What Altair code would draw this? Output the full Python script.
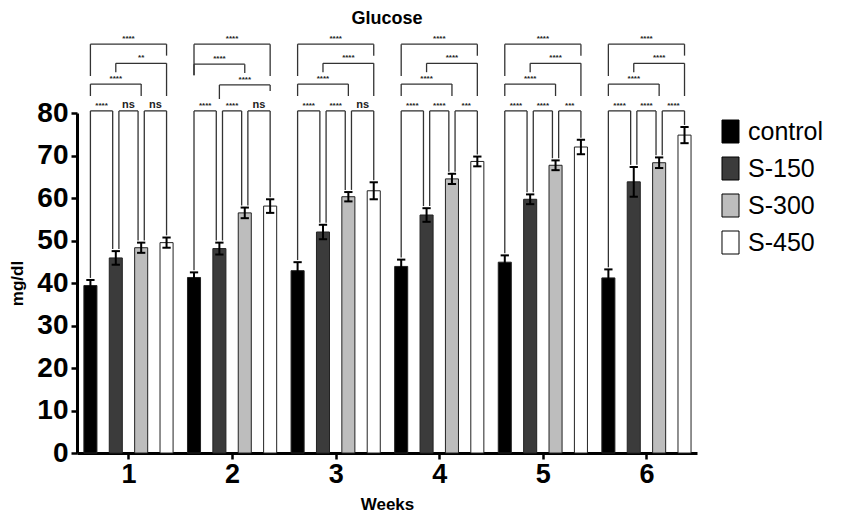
import altair as alt
import pandas as pd

# ---------------- data ----------------
weeks = [1, 2, 3, 4, 5, 6]
groups = ["control", "S-150", "S-300", "S-450"]
group_colors = ["#000000", "#3b3b3b", "#bdbdbd", "#ffffff"]

control_mean = [39.4, 41.3, 42.9, 43.9, 44.9, 41.2]
s150_mean = [45.9, 48.1, 52.0, 56.0, 59.7, 63.8]
s300_mean = [48.3, 56.5, 60.3, 64.5, 67.7, 68.3]
s450_mean = [49.5, 58.1, 61.7, 68.6, 72.0, 74.8]

control_err = [1.3, 1.2, 2.0, 1.6, 1.6, 2.0]
s150_err = [1.6, 1.4, 1.7, 1.6, 1.15, 3.5]
s300_err = [1.2, 1.25, 1.1, 1.2, 1.15, 1.25]
s450_err = [1.2, 1.6, 2.0, 1.15, 1.7, 1.9]

# significance labels per week
sig_control_s150 = ["****", "****", "****", "****", "****", "****"]
sig_s150_s300 = ["ns", "****", "****", "****", "****", "****"]
sig_s300_s450 = ["ns", "ns", "ns", "***", "***", "****"]
sig_control_s300 = ["****", "****", "****", "****", "****", "****"]
sig_s150_s450 = ["**", "****", "****", "****", "****", "****"]
sig_control_s450 = ["****", "****", "****", "****", "****", "****"]
# which wide comparison sits in the middle row of brackets
middle_row = ["s150_s450", "control_s300", "s150_s450", "s150_s450", "s150_s450", "s150_s450"]

means = [control_mean, s150_mean, s300_mean, s450_mean]
errs = [control_err, s150_err, s300_err, s450_err]

# ---------------- layout helpers ----------------
STEP = 0.245      # spacing of bars within a week (x units)
HALF = 0.063      # half bar width
CAP = 0.04        # half width of error-bar caps
INSET = 0.03      # bracket inset where two brackets share a bar

rows = []
for wi, w in enumerate(weeks):
    for gi, g in enumerate(groups):
        m = means[gi][wi]
        e = errs[gi][wi]
        xc = w + (gi - 1.5) * STEP
        rows.append(dict(week=w, group=g, mean=m, err=e, xc=xc,
                         xl=xc - HALF, xr=xc + HALF, lo=m - e, hi=m + e))
bars_df = pd.DataFrame(rows)

# error bar segments
seg = []
for r in rows:
    seg.append(dict(x=r["xc"], x2=r["xc"], y=r["lo"], y2=r["hi"]))
    seg.append(dict(x=r["xc"] - CAP, x2=r["xc"] + CAP, y=r["hi"], y2=r["hi"]))
    seg.append(dict(x=r["xc"] - CAP, x2=r["xc"] + CAP, y=r["lo"], y2=r["lo"]))
err_df = pd.DataFrame(seg)

# brackets
bseg = []
blab = []


def bracket(xl, xr, ytop, yl, yr, text):
    bseg.append(dict(x=xl, x2=xr, y=ytop, y2=ytop))
    bseg.append(dict(x=xl, x2=xl, y=ytop, y2=yl))
    bseg.append(dict(x=xr, x2=xr, y=ytop, y2=yr))
    blab.append(dict(x=(xl + xr) / 2, y=ytop + 0.7, text=text,
                     fs=11 if text == "ns" else 8))


LEVEL1 = 80.5
for wi, w in enumerate(weeks):
    c = [w + (gi - 1.5) * STEP for gi in range(4)]
    hi = [means[gi][wi] + errs[gi][wi] for gi in range(4)]
    adj = [sig_control_s150[wi], sig_s150_s300[wi], sig_s300_s450[wi]]
    for i in range(3):
        xl = c[i] + (INSET if i > 0 else 0)
        xr = c[i + 1] - (INSET if i + 1 < 3 else 0)
        bracket(xl, xr, LEVEL1, hi[i] + 0.5, hi[i + 1] + 0.5, adj[i])
    if middle_row[wi] == "s150_s450":
        bracket(c[0], c[3], 96.2, 88.7, 93.5, sig_control_s450[wi])
        bracket(c[1], c[3], 91.7, 89.6, 84.0, sig_s150_s450[wi])
        bracket(c[0], c[2], 86.8, 84.0, 84.0, sig_control_s300[wi])
    else:
        bracket(c[0], c[3], 96.2, 88.9, 88.7, sig_control_s450[wi])
        bracket(c[0], c[2], 91.5, 88.9, 89.4, sig_control_s300[wi])
        bracket(c[1], c[3], 86.6, 83.3, 85.2, sig_s150_s450[wi])
br_df = pd.DataFrame(bseg)
lab_df = pd.DataFrame(blab)

# ---------------- chart ----------------
FONT = "Liberation Sans"
x_scale = alt.Scale(domain=[0.503, 6.488], nice=False, zero=False)
y_scale = alt.Scale(domain=[0, 80], nice=False)

bars = alt.Chart(bars_df).mark_bar(stroke="#222222", strokeWidth=1).encode(
    x=alt.X("xl:Q", scale=x_scale,
            axis=alt.Axis(values=weeks, format="d", title="Weeks")),
    x2="xr:Q",
    y=alt.Y("mean:Q", scale=y_scale,
            axis=alt.Axis(values=list(range(0, 81, 10)), title="mg/dl")),
    y2=alt.datum(0),
    color=alt.Color("group:N", scale=alt.Scale(domain=groups, range=group_colors),
                    legend=alt.Legend(title=None, orient="none", legendX=641, legendY=6,
                                      labelFont=FONT, labelFontSize=25, labelColor="black",
                                      symbolType="M-0.74,-1H0.74V1H-0.74Z", symbolSize=529,
                                      symbolStrokeColor="black", symbolStrokeWidth=1,
                                      symbolOpacity=1,
                                      rowPadding=10, labelOffset=5)),
)

errbars = alt.Chart(err_df).mark_rule(color="black", strokeWidth=2).encode(
    x="x:Q", x2="x2:Q", y="y:Q", y2="y2:Q")

brackets = alt.Chart(br_df).mark_rule(color="#333333", strokeWidth=1.3).encode(
    x="x:Q", x2="x2:Q", y="y:Q", y2="y2:Q")

labels = alt.Chart(lab_df).mark_text(font=FONT, fontWeight="bold", baseline="alphabetic",
                                     align="center", color="#222222").encode(
    x="x:Q", y="y:Q", text="text:N", size=alt.Size("fs:Q", scale=None, legend=None))

chart = alt.layer(bars, errbars, brackets, labels).properties(
    width=620, height=340,
    title=alt.TitleParams("Glucose", font=FONT, fontSize=18, fontWeight="bold",
                          anchor="middle", color="black", offset=7),
    autosize=alt.AutoSizeParams(type="none"),
    padding={"left": 69, "top": 105, "right": 146, "bottom": 60},
).configure_view(stroke=None).configure_axis(
    grid=False, domainColor="black", domainWidth=3, tickColor="black", tickWidth=2.5,
    tickSize=6, labelFont=FONT, labelFontWeight="bold", labelColor="black",
    titleFont=FONT, titleFontWeight="bold", titleColor="black", titleFontSize=17,
).configure_axisY(
    labelFontSize=28, labelPadding=3, titlePadding=10,
).configure_axisX(
    labelFontSize=27, labelPadding=2, titlePadding=9,
)

chart.save("out.html", embed_options={"renderer": "svg", "actions": False})
